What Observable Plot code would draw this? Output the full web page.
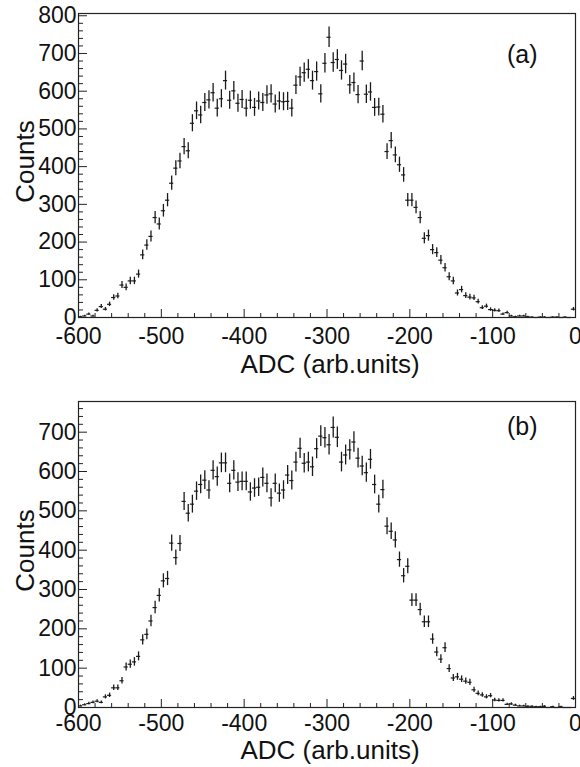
<!DOCTYPE html>
<html><head><meta charset="utf-8">
<script src="https://cdn.jsdelivr.net/npm/d3@7"></script>
<script src="https://cdn.jsdelivr.net/npm/@observablehq/plot@0.6"></script>
<style>
body{margin:0;background:#fff;}
#chart{width:580px;}
#chart svg{display:block;}
</style>
</head><body><div id="chart"></div>
<script>
// Histogram binning (ADC, arb. units)
const binStart = -600;
const binWidth = 5;

// Panel (a) counts per 5-unit bin, from -600 to 0
const countsA = [
  2, 4, 9, 4, 19, 29, 22, 35, 53, 57,
  86, 80, 97, 97, 115, 166, 192, 215, 265, 248,
  283, 311, 356, 396, 415, 453, 442, 515, 548, 537,
  570, 577, 596, 555, 580, 628, 576, 601, 568, 578,
  555, 576, 557, 574, 570, 590, 593, 566, 574, 572,
  573, 555, 616, 638, 649, 658, 628, 652, 593, 674,
  743, 676, 684, 655, 672, 617, 623, 591, 680, 592,
  598, 557, 558, 539, 440, 469, 431, 405, 378, 311,
  311, 292, 265, 210, 217, 180, 172, 152, 132, 108,
  97, 65, 74, 58, 54, 52, 42, 26, 30, 21,
  19, 18, 9, 13, 4, 2, 4, 4, 2, 1,
  0, 1, 1, 0, 1, 1, 0, 1, 0, 22
];

// Panel (b) counts per 5-unit bin, from -600 to 0
const countsB = [
  4, 7, 10, 13, 16, 13, 27, 31, 50, 50,
  68, 103, 110, 116, 130, 172, 186, 220, 254, 285,
  322, 328, 418, 381, 417, 524, 494, 517, 550, 567,
  578, 553, 603, 587, 622, 622, 570, 603, 573, 575,
  575, 548, 558, 560, 585, 570, 533, 570, 545, 553,
  591, 577, 624, 659, 621, 624, 612, 658, 690, 686,
  668, 712, 687, 624, 642, 655, 675, 634, 614, 597,
  631, 567, 517, 554, 461, 448, 426, 376, 335, 359,
  273, 273, 249, 218, 218, 174, 141, 123, 152, 99,
  75, 78, 72, 67, 64, 45, 36, 32, 27, 30,
  19, 18, 18, 8, 9, 6, 4, 4, 3, 3,
  2, 2, 3, 0, 2, 0, 2, 0, 0, 23
];

// Axis ticks and labels
const xDomain = [-600, 0];
const xMajor = [-600, -500, -400, -300, -200, -100, 0];
const xMinor = [-580,-560,-540,-520,-480,-460,-440,-420,-380,-360,-340,-320,-280,-260,-240,-220,-180,-160,-140,-120,-80,-60,-40,-20];
const yMajorA = [0, 100, 200, 300, 400, 500, 600, 700, 800];
const yMajorB = [0, 100, 200, 300, 400, 500, 600, 700];
const xTitle = "ADC (arb.units)";
const yTitle = "Counts";
const panelLabels = ["(a)", "(b)"];

const FONT = "'Liberation Sans', Arial, Helvetica, sans-serif";
const INK = "#000";

function toRows(counts) {
  return counts.map((v, i) => {
    const c = binStart + binWidth * (i + 0.5);
    const e = Math.sqrt(v);
    return {x: c, x1: c - binWidth / 2, x2: c + binWidth / 2, v, lo: v - e, hi: v + e};
  });
}

function panel(counts, o) {
  const width = 580;
  const mL = 78, mR = 5;
  const FW = width - mL - mR;
  const FH = o.height - o.marginTop - o.marginBottom;
  const yMinor = d3.range(20, o.yMax, 20).filter(d => d % 100 !== 0);
  const rows = toRows(counts);
  return Plot.plot({
    width, height: o.height,
    marginLeft: mL, marginRight: mR, marginTop: o.marginTop, marginBottom: o.marginBottom,
    style: {fontFamily: FONT, background: "#fff", color: INK, overflow: "visible"},
    x: {domain: xDomain},
    y: {domain: [0, o.yMax]},
    marks: [
      // inward ticks (ROOT style)
      Plot.tickX(xMajor, {x: d => d, insetTop: FH - 8, stroke: "#222", strokeWidth: 1}),
      Plot.tickX(xMinor, {x: d => d, insetTop: FH - 4, stroke: "#222", strokeWidth: 1}),
      Plot.tickY(o.yTicks, {y: d => d, insetRight: FW - 9, stroke: "#222", strokeWidth: 1}),
      Plot.tickY(yMinor, {y: d => d, insetRight: FW - 5, stroke: "#222", strokeWidth: 1}),
      Plot.axisX(xMajor, {tickSize: 0, tickPadding: o.xTickPad, tickFormat: d => String(d), fontSize: 23, fill: "#111", label: null}),
      Plot.axisY(o.yTicks, {tickSize: 0, tickPadding: 2, tickFormat: d => String(d), fontSize: 23, fill: "#111", label: null}),
      // error bars
      Plot.ruleX(rows, {x: "x", y1: "lo", y2: "hi", stroke: "#1a1a1a", strokeWidth: 1.3}),
      Plot.ruleY(rows, {y: "v", x1: "x1", x2: "x2", stroke: "#1a1a1a", strokeWidth: 1.2}),
      Plot.frame({stroke: "#222", strokeWidth: 1.2}),
      // titles
      Plot.text([xTitle], {frameAnchor: "bottom", lineAnchor: "bottom", dx: 3, dy: o.xTitleDy, fontSize: 26, fill: "#111"}),
      Plot.text([yTitle], {frameAnchor: "left", rotate: -90, lineAnchor: "bottom", textAnchor: "middle", dx: -45, dy: -4, fontSize: 26, fill: "#111"}),
      Plot.text([o.label], {frameAnchor: "top-right", textAnchor: "end", lineAnchor: "bottom", dx: -38, dy: o.labelDy, fontSize: 25, fill: "#111"})
    ]
  });
}

const chart = document.getElementById("chart");
chart.appendChild(panel(countsA, {height: 385, marginTop: 13, marginBottom: 68, yMax: 806, yTicks: yMajorA, label: panelLabels[0], labelDy: 49, xTitleDy: 55, xTickPad: 10}));
chart.appendChild(panel(countsB, {height: 382, marginTop: 16, marginBottom: 60, yMax: 778, yTicks: yMajorB, label: panelLabels[1], labelDy: 33, xTitleDy: 51, xTickPad: 7}));
</script>
</body></html>
